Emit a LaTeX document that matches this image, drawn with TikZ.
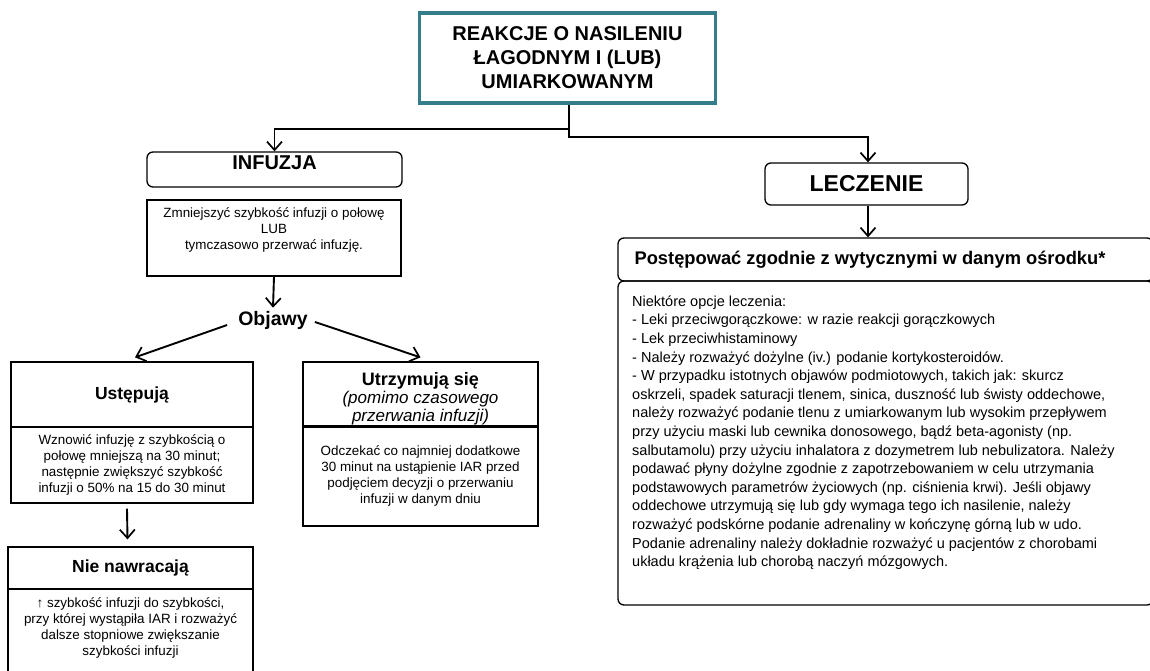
\documentclass[tikz,border=0pt]{standalone}
\usepackage{fontspec}
\setmainfont{Liberation Sans}
\usepackage{xcolor}
\usetikzlibrary{arrows.meta}
\definecolor{frameteal}{RGB}{52,126,140}

\begin{document}
\begin{tikzpicture}[x=1pt, y=1pt,
    box/.style={draw, line width=1.3pt, inner sep=0pt},
    rbox/.style={box, rounded corners=6pt},
    conn/.style={line width=1.9pt, -{Straight Barb[length=8.5pt,width=15pt,line width=1.7pt]}},
    head/.style={font=\fontsize{17.5}{21}\selectfont\bfseries, align=center},
    body/.style={font=\fontsize{13.4}{16}\selectfont, align=center}]
    \useasboundingbox (0,0) rectangle (1150,-670);

    % Top frame
    \node[draw=frameteal, line width=3.5pt, minimum width=296pt, minimum height=90pt,
          font=\fontsize{20}{24}\selectfont\bfseries, align=center]
          (reakcje) at (567.5,-58) {REAKCJE O NASILENIU\\ŁAGODNYM I (LUB)\\UMIARKOWANYM};

    % Infusion branch
    \node[rbox, minimum width=255pt, minimum height=35pt] (infuzja) at (274.5,-169.5) {};
    \node[font=\fontsize{20}{24}\selectfont\bfseries] (infuzjaT) at (274.5,-163) {INFUZJA};
    \node[box, minimum width=254pt, minimum height=76pt] (infuzjaB) at (274,-238) {};
    \node[body] (infuzjaTxt) at (274,-229.5)
        {Zmniejszyć szybkość infuzji o połowę\\LUB\\tymczasowo przerwać infuzję.};
    \node[font=\fontsize{19.5}{23}\selectfont\bfseries, inner sep=1pt] (objawy) at (273,-320) {Objawy};

    % Symptoms resolve
    \node[box, head, minimum width=242pt, minimum height=65pt] (ustT) at (132,-394.5) {Ustępują};
    \node[box, body, minimum width=242pt, minimum height=76pt] (ustB) at (132,-465)
        {Wznowić infuzję z szybkością o\\połowę mniejszą na 30 minut;\\następnie zwiększyć szybkość\\infuzji o 50\% na 15 do 30 minut};
    \node[box, head, minimum width=245pt, minimum height=42pt] (nieT) at (130.5,-568) {Nie nawracają};
    \node[box, minimum width=245pt, minimum height=83pt] (nieB) at (130.5,-630.5) {};
    \node[body] (nieTxt) at (130.5,-628)
        {↑ szybkość infuzji do szybkości,\\przy której wystąpiła IAR i rozważyć\\dalsze stopniowe zwiększanie\\szybkości infuzji};

    % Symptoms persist
    \node[box, minimum width=235pt, minimum height=65pt] (utrT) at (420.5,-394.5) {};
    \node[align=center, font=\fontsize{17}{18}\selectfont] (utrTtxt) at (420.5,-399)
        {\fontsize{18}{18}\selectfont\bfseries Utrzymują się\\\fontsize{17}{18}\selectfont\mdseries\itshape (pomimo czasowego\\\itshape przerwania infuzji)};
    \node[box, minimum width=235pt, minimum height=100pt] (utrB) at (420.5,-476) {};
    \node[body] (utrTxt) at (420.5,-476)
        {Odczekać co najmniej dodatkowe\\30 minut na ustąpienie IAR przed\\podjęciem decyzji o przerwaniu\\infuzji w danym dniu};

    % Treatment branch
    \node[rbox, minimum width=203pt, minimum height=42pt,
          font=\fontsize{23}{26}\selectfont\bfseries] (leczenie) at (866.5,-184) {LECZENIE};
    \node[rbox, minimum width=535pt, minimum height=43pt] (wytyczne) at (885.5,-259.5) {};
    \node[font=\fontsize{18.3}{21}\selectfont\bfseries] (wytyczneT) at (870,-260)
        {Postępować zgodnie z wytycznymi w danym ośrodku*};
    \node[rbox, minimum width=535pt, minimum height=324pt] (opcje) at (885.5,-443) {};
    \node[anchor=north west, align=left, inner sep=0pt,
          font=\fontsize{14.5}{18.6}\selectfont] (opcjeTxt) at (632,-295.5)
        {Niektóre opcje leczenia:\\
         - Leki przeciwgorączkowe: w razie reakcji gorączkowych\\
         - Lek przeciwhistaminowy\\
         - Należy rozważyć dożylne (iv.) podanie kortykosteroidów.\\
         - W przypadku istotnych objawów podmiotowych, takich jak: skurcz\\
         oskrzeli, spadek saturacji tlenem, sinica, duszność lub świsty oddechowe,\\
         należy rozważyć podanie tlenu z umiarkowanym lub wysokim przepływem\\
         przy użyciu maski lub cewnika donosowego, bądź beta-agonisty (np.\\
         salbutamolu) przy użyciu inhalatora z dozymetrem lub nebulizatora. Należy\\
         podawać płyny dożylne zgodnie z zapotrzebowaniem w celu utrzymania\\
         podstawowych parametrów życiowych (np. ciśnienia krwi). Jeśli objawy\\
         oddechowe utrzymują się lub gdy wymaga tego ich nasilenie, należy\\
         rozważyć podskórne podanie adrenaliny w kończynę górną lub w udo.\\
         Podanie adrenaliny należy dokładnie rozważyć u pacjentów z chorobami\\
         układu krążenia lub chorobą naczyń mózgowych.};

    % Connectors
    \draw[conn] ([xshift=1.5pt,yshift=-24pt]reakcje.south) -| (infuzja.north);
    \draw[conn] ([xshift=1.5pt]reakcje.south) -- ++(0,-32) -| ([xshift=1.5pt]leczenie.north);
    \draw[conn] (infuzjaB.south) -- ([yshift=2pt]objawy.north);
    \draw[conn] ([xshift=-10pt,yshift=-5pt]objawy.west) -- ([xshift=3pt,yshift=4pt]ustT.north);
    \draw[conn] ([xshift=6pt,yshift=-2pt]objawy.east) -- ([yshift=4pt]utrT.north);
    \draw[conn] ([xshift=-5pt,yshift=-5pt]ustB.south) -- ([xshift=-3pt,yshift=7pt]nieT.north);
    \draw[conn] ([xshift=1.5pt]leczenie.south) -- ([xshift=1.5pt]leczenie.south |- wytyczne.north);
\end{tikzpicture}
\end{document}
